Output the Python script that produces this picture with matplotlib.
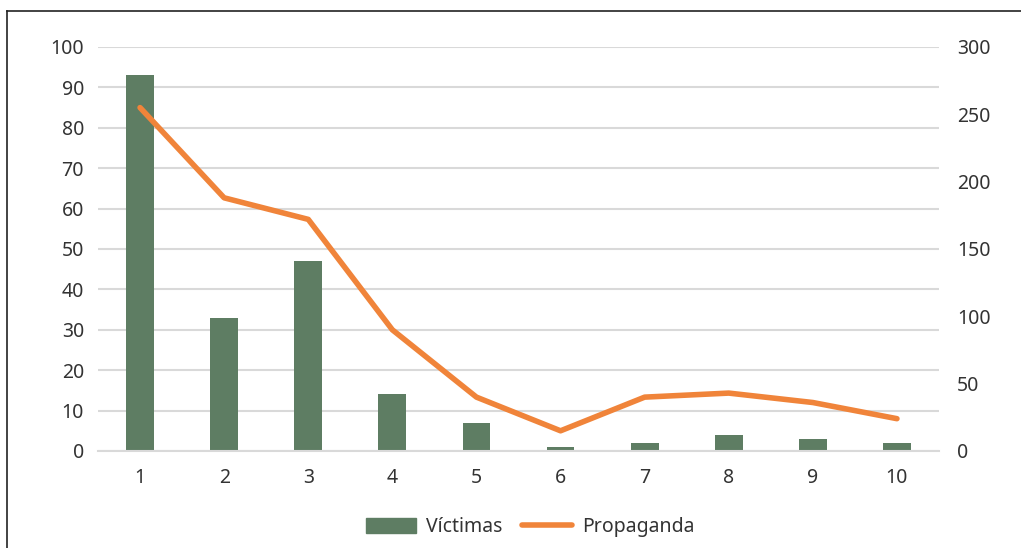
import numpy as np
import matplotlib
matplotlib.use("Agg")
from matplotlib import pyplot as plt
from matplotlib.lines import Line2D

plt.rcParams['font.family'] = ['Noto Sans', 'DejaVu Sans']

categorias = ['1', '2', '3', '4', '5', '6', '7', '8', '9', '10']
victimas = [93, 33, 47, 14, 7, 1, 2, 4, 3, 2]
propaganda = [255, 188, 172, 90, 40, 15, 40, 43, 36, 24]

verde = '#5E7D63'
naranja = '#F0843A'
gris = '#D9D9D9'
texto = '#333333'
fs = 14

fig = plt.figure(figsize=(10.21, 5.48), dpi=100)
ax = fig.add_axes([98 / 1021, 97 / 548, 841 / 1021, 404 / 548])
ax2 = ax.twinx()

x = np.arange(1, len(categorias) + 1)
ax.bar(x, victimas, width=0.33, color=verde, zorder=2)
ax2.plot(x, propaganda, color=naranja, lw=4, solid_capstyle='round', zorder=3)

ax.set_xlim(0.5, 10.5)
ax.set_ylim(0, 100)
ax.set_yticks(range(0, 101, 10))
ax2.set_ylim(0, 300)
ax2.set_yticks(range(0, 301, 50))
ax.set_xticks(x)
ax.set_xticklabels(categorias)

ax.grid(axis='y', color=gris, lw=1.5, zorder=0)
ax.set_axisbelow(True)
for a in (ax, ax2):
    for s in a.spines.values():
        s.set_visible(False)
    a.tick_params(length=0, labelsize=fs, colors=texto)
ax.tick_params(axis='y', pad=10)
ax.tick_params(axis='x', pad=12)
ax2.tick_params(axis='y', pad=13)
ax.spines['bottom'].set_visible(True)
ax.spines['bottom'].set_color(gris)
ax.spines['bottom'].set_linewidth(1.5)

# marco del gráfico
fig.add_artist(Line2D([7 / 1021, 7 / 1021], [0, 1 - 11 / 548], color='#222222', lw=1.2))
fig.add_artist(Line2D([7 / 1021, 1], [1 - 11 / 548, 1 - 11 / 548], color='#222222', lw=1.2))

handles = [plt.Rectangle((0, 0), 1, 1, color=verde),
           Line2D([0], [0], color=naranja, lw=4, solid_capstyle='round')]
fig.legend(handles, ['Víctimas', 'Propaganda'], loc='center', ncol=2,
           bbox_to_anchor=(530 / 1021, 1 - 527 / 548), frameon=False,
           fontsize=fs, labelcolor=texto, handlelength=2.6, handleheight=0.8,
           columnspacing=1.0, handletextpad=0.5)

fig.savefig('out.png', dpi=100)
